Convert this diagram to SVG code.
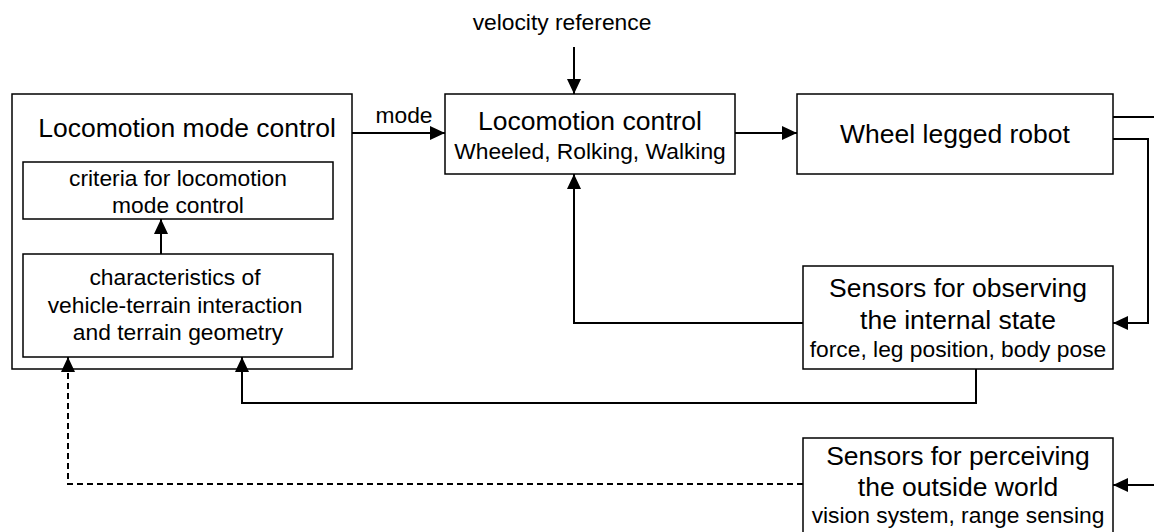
<svg xmlns="http://www.w3.org/2000/svg" width="1154" height="532" viewBox="0 0 1154 532">
<defs>
<marker id="ah" markerUnits="userSpaceOnUse" markerWidth="15" markerHeight="14" viewBox="0 0 15 14" refX="15" refY="7" orient="auto">
<path d="M0,0 L15,7 L0,14 z" fill="#000"/>
</marker>
<style>
.box{fill:#fff;stroke:#000;stroke-width:1.5}
.t{font-family:"Liberation Sans",Arial,sans-serif;font-size:26.5px;fill:#000;text-anchor:middle}
.s{font-family:"Liberation Sans",Arial,sans-serif;font-size:22.8px;fill:#000;text-anchor:middle}
.c{fill:none;stroke:#000;stroke-width:2}
.arr{marker-end:url(#ah)}
.dash{stroke-dasharray:6,4}
</style>
</defs>
<rect width="1154" height="532" fill="#fff"/>
<g id="locomotion-mode-control">
<rect class="box" x="12" y="94" width="340" height="275"/>
<text class="t" x="187" y="137">Locomotion mode control</text>
</g>
<g id="criteria">
<rect class="box" x="23" y="162" width="310" height="57"/>
<text class="s" x="178" y="186">criteria for locomotion</text>
<text class="s" x="178" y="213">mode control</text>
</g>
<g id="characteristics">
<rect class="box" x="23" y="254" width="310" height="103"/>
<text class="s" x="175" y="285">characteristics of</text>
<text class="s" x="175" y="313">vehicle-terrain interaction</text>
<text class="s" x="178" y="340">and terrain geometry</text>
</g>
<g id="locomotion-control">
<rect class="box" x="445" y="94" width="290" height="80"/>
<text class="t" x="590" y="130">Locomotion control</text>
<text class="s" x="590" y="159">Wheeled, Rolking, Walking</text>
</g>
<g id="robot">
<rect class="box" x="797" y="94" width="316" height="80"/>
<text class="t" x="955" y="143">Wheel legged robot</text>
</g>
<g id="sensors-internal">
<rect class="box" x="803" y="266" width="310" height="103"/>
<text class="t" x="958" y="297">Sensors for observing</text>
<text class="t" x="958" y="329">the internal state</text>
<text class="s" x="958" y="357">force, leg position, body pose</text>
</g>
<g id="sensors-outside">
<rect class="box" x="803" y="438" width="310" height="100"/>
<text class="t" x="958" y="465">Sensors for perceiving</text>
<text class="t" x="958" y="496">the outside world</text>
<text class="s" x="958" y="523">vision system, range sensing</text>
</g>
<g id="labels">
<text class="s" x="562" y="30">velocity reference</text>
<text class="s" x="404" y="123">mode</text>
</g>
<g id="connectors">
<path class="c arr" d="M574,47 V94"/>
<path class="c arr" d="M352,133 H445"/>
<path class="c arr" d="M735,133 H797"/>
<path class="c" d="M1113,117 H1154"/>
<path class="c arr" d="M1113,139 H1148 V323 H1113"/>
<path class="c arr" d="M803,323 H574 V174"/>
<path class="c arr" d="M976,369 V403 H242 V357"/>
<path class="c arr" d="M1154,485 H1113"/>
<path class="c arr dash" d="M803,484 H68 V357"/>
<path class="c arr" d="M161,254 V219"/>
</g>
</svg>
